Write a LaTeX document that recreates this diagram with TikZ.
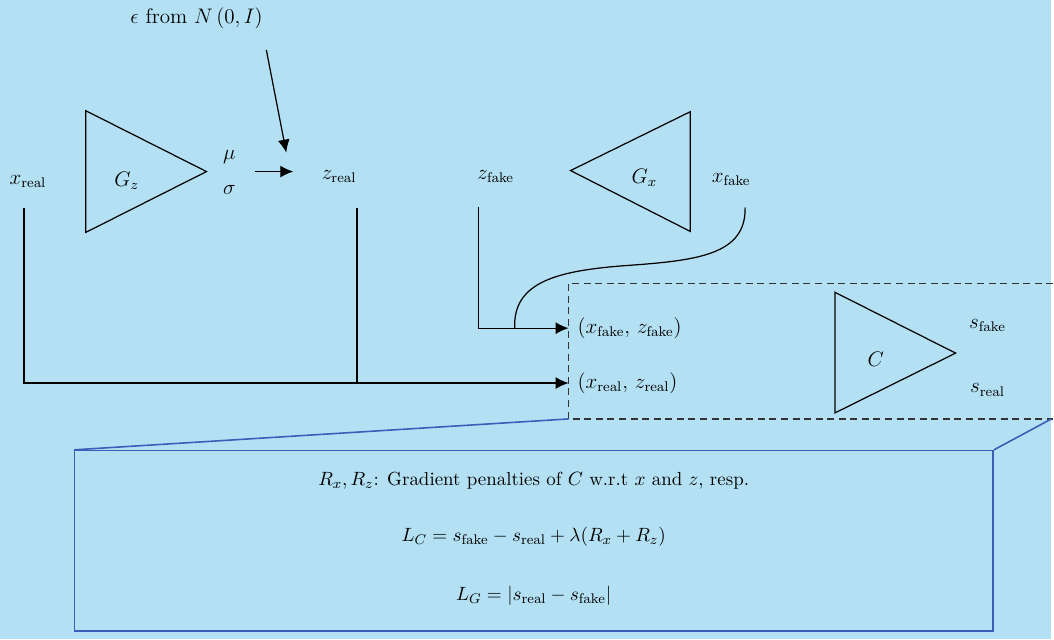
\documentclass[tikz,border=0pt]{standalone}
\usepackage{amsmath,amssymb}
\usepackage{xcolor}
\usepackage{tikz}
\usetikzlibrary{arrows.meta,positioning}
\definecolor{bgblue}{HTML}{B3E1F3}
\definecolor{lossblue}{HTML}{3D5DB8}
\definecolor{dashgray}{HTML}{333333}
\newcommand{\rl}{\mathrm{real}}
\newcommand{\fk}{\mathrm{fake}}
\tikzset{
  lbl/.style={font=\large, inner sep=1pt},
  boxtxt/.style={font=\fontsize{10.8}{13}\selectfont, inner sep=1pt},
  tri/.style={draw=black, line width=0.7pt, line join=miter},
  pline/.style={line width=0.7pt},
  farr/.style={-{Latex[length=2.6mm,width=2.4mm]}, line width=0.7pt},
  dbox/.style={draw=dashgray, line width=0.75pt, dash pattern=on 4pt off 2.6pt},
  lossbox/.style={draw=lossblue, line width=0.9pt, minimum width=18.42cm, minimum height=3.62cm, inner sep=0pt},
  blink/.style={draw=lossblue, line width=0.9pt}
}
\begin{document}
\begin{tikzpicture}[x=0.02cm, y=-0.02cm]
\fill[bgblue] (0,0) rectangle (1054,641);
% noise input
\node[lbl] (eps) at (197,18) {$\epsilon$ from $N\,(0,I)$};
\coordinate (epsout) at (267,50);
\coordinate (epsin) at (287,153);
\draw[farr] (epsout) -- (epsin);
% encoder G_z
\node[lbl] (xr) at (28,182) {$x_{\rl}$};
\draw[tri] (86,111) -- (207,172) -- (86,233) -- cycle;
\node[lbl] (gz) at (127,181) {$G_z$};
\node[lbl] (mu) at (230,157) {$\mu$};
\node[lbl] (sig) at (230,190) {$\sigma$};
\coordinate (ms) at (256,172);
\coordinate (msend) at (294,172);
\draw[farr] (ms) -- (msend);
\node[lbl] (zr) at (340,177) {$z_{\rl}$};
% generator G_x
\node[lbl] (zf) at (497,177) {$z_{\fk}$};
\draw[tri] (572,171) -- (692,112) -- (692,232) -- cycle;
\node[lbl] (gx) at (646,178) {$G_x$};
\node[lbl] (xf) at (733,180) {$x_{\fk}$};
% critic C
\draw[dbox] (1056,284) -- (570,284) -- (570,420) -- (1056,420);
\coordinate (dcorner) at (570,420);
\coordinate (dright) at (1054,420);
\node[lbl, anchor=west] (pf) at (577,329) {$(x_{\fk},\, z_{\fk})$};
\node[lbl, anchor=west] (pr) at (577,384) {$(x_{\rl},\, z_{\rl})$};
\draw[tri] (837,293) -- (958,354) -- (837,414) -- cycle;
\node[lbl] (cc) at (878,360) {$C$};
\node[lbl] (sf) at (990,326) {$s_{\fk}$};
\node[lbl] (sr) at (990,391) {$s_{\rl}$};
% connectors
\coordinate (xrdown) at (24,209);
\coordinate (zrdown) at (358,209);
\coordinate (zfdown) at (480,208);
\coordinate (xfdown) at (747,208);
\coordinate (join) at (358,383);
\coordinate (mid) at (631,266);
\coordinate (meet) at (516,329);
\draw[farr] (xrdown) |- (pr.west -| dcorner);
\draw[pline] (zrdown) -- (join);
\draw[farr] (zfdown) |- (pf.west -| dcorner);
\draw[pline] (xfdown) .. controls (748,255) and (700,261) .. (mid)
  .. controls (560,271) and (514,282) .. (meet);
% losses
\node[lossbox, anchor=north west] (loss) at (74,451) {};
\draw[blink] (loss.north west) -- (dcorner);
\draw[blink] (loss.north east) -- (dright);
\node[boxtxt] (rr) at (535,482) {$R_x, R_z$: Gradient penalties of $C$ w.r.t $x$ and $z$, resp.};
\node[boxtxt] (lc) at (535,538) {$L_C = s_{\fk} - s_{\rl} + \lambda(R_x + R_z)$};
\node[boxtxt] (lg) at (535,597) {$L_G = \left|s_{\rl} - s_{\fk}\right|$};
\end{tikzpicture}
\end{document}
